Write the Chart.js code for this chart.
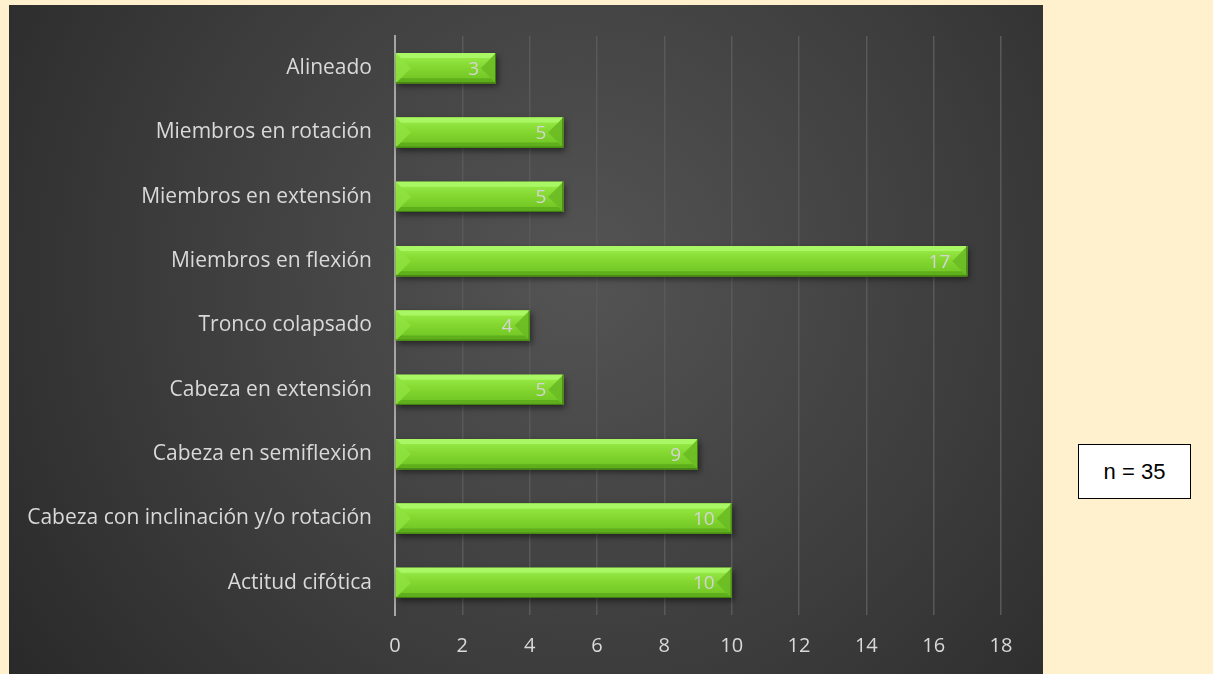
<!DOCTYPE html>
<html><head><meta charset="utf-8">
<script src="https://cdn.jsdelivr.net/npm/chart.js@4/dist/chart.umd.min.js"></script>
<style>
html,body{margin:0;padding:0;background:#FFF0CE;width:1213px;height:674px;overflow:hidden;}
#wrap{position:absolute;left:9px;top:5px;width:1034px;height:669px;}
#nbox{position:absolute;left:1078px;top:444px;width:111px;height:53px;background:#fff;border:1px solid #000;font-family:"Liberation Sans",Arial,sans-serif;font-size:22px;color:#000;display:flex;align-items:center;justify-content:center;}
</style></head>
<body>
<div id="wrap"><canvas id="c" width="1034" height="669"></canvas></div>
<div id="nbox">n = 35</div>
<script>
const categories = ["Alineado","Miembros en rotación","Miembros en extensión","Miembros en flexión","Tronco colapsado","Cabeza en extensión","Cabeza en semiflexión","Cabeza con inclinación y/o rotación","Actitud cifótica"];
const values = [3,5,5,17,4,5,9,10,10];
const xTicks = [0,2,4,6,8,10,12,14,16,18];

const FONT = "'Open Sans', Lato, sans-serif";

const bgPlugin = {
  id:'bg',
  beforeDraw(chart){
    const ctx = chart.ctx, w = chart.width, h = chart.height;
    const g = ctx.createRadialGradient(w*0.55, h*0.4, 0, w*0.55, h*0.4, Math.max(w,h)*0.72);
    g.addColorStop(0,'#545454');
    g.addColorStop(0.55,'#3c3c3c');
    g.addColorStop(1,'#262626');
    ctx.save(); ctx.fillStyle = g; ctx.fillRect(0,0,w,h); ctx.restore();
  }
};

const bevelPlugin = {
  id:'bevel',
  afterDatasetsDraw(chart){
    const ctx = chart.ctx;
    const meta = chart.getDatasetMeta(0);
    meta.data.forEach((bar, i) => {
      const x0 = bar.base, x1 = bar.x, yT = bar.y - bar.height/2, yB = bar.y + bar.height/2, h = bar.height;
      const b = 5;
      ctx.save();
      ctx.shadowColor = 'rgba(0,0,0,0.5)'; ctx.shadowBlur = 6; ctx.shadowOffsetX = 2; ctx.shadowOffsetY = 3;
      ctx.fillStyle = '#5aa81a';
      ctx.fillRect(x0, yT, x1-x0, h);
      ctx.restore();
      ctx.save();
      const g = ctx.createLinearGradient(0, yT, 0, yB);
      g.addColorStop(0,'#9ef050'); g.addColorStop(0.45,'#84d830'); g.addColorStop(1,'#6ec222');
      ctx.fillStyle = g; ctx.fillRect(x0, yT, x1-x0, h);
      ctx.fillStyle = '#aaf766';
      ctx.beginPath(); ctx.moveTo(x0,yT); ctx.lineTo(x1,yT); ctx.lineTo(x1-b,yT+b); ctx.lineTo(x0+b,yT+b); ctx.closePath(); ctx.fill();
      ctx.fillStyle = '#5fae1c';
      ctx.beginPath(); ctx.moveTo(x0,yB); ctx.lineTo(x1,yB); ctx.lineTo(x1-b,yB-b); ctx.lineTo(x0+b,yB-b); ctx.closePath(); ctx.fill();
      ctx.globalAlpha=0.8;
      ctx.fillStyle = '#90e440';
      ctx.beginPath(); ctx.moveTo(x0,yT); ctx.lineTo(x0+h/2,bar.y); ctx.lineTo(x0,yB); ctx.closePath(); ctx.fill();
      ctx.globalAlpha=0.9;
      ctx.fillStyle = '#6abb24';
      ctx.beginPath(); ctx.moveTo(x1,yT); ctx.lineTo(x1-h/2,bar.y); ctx.lineTo(x1,yB); ctx.closePath(); ctx.fill();
      ctx.globalAlpha=1;
      ctx.strokeStyle = '#3f7d10'; ctx.lineWidth = 1;
      ctx.beginPath(); ctx.moveTo(x0,yB-0.5); ctx.lineTo(x1-0.5,yB-0.5); ctx.lineTo(x1-0.5,yT); ctx.stroke();
      ctx.fillStyle = '#d4d4d4';
      ctx.font = "19px " + FONT;
      ctx.textAlign = 'right'; ctx.textBaseline = 'middle';
      ctx.fillText(String(values[i]), x1 - 17, bar.y + 1);
      ctx.restore();
    });
  }
};

new Chart(document.getElementById('c'), {
  type:'bar',
  data:{ labels:categories, datasets:[{ data:values, backgroundColor:'rgba(0,0,0,0)', borderWidth:0, categoryPercentage:1, barPercentage:0.47 }]},
  options:{
    indexAxis:'y', responsive:false, animation:false,
    layout:{ padding:{ top:31, right:42, left:0, bottom:0 } },
    plugins:{ legend:{display:false}, tooltip:{enabled:false} },
    scales:{
      x:{
        min:0, max:18,
        afterBuildTicks(s){ s.ticks = xTicks.map(v=>({value:v})); },
        afterFit(s){ s.height = 59; s.paddingLeft = 0; s.paddingRight = 0; },
        grid:{ color:(c)=> c.tick && c.tick.value===0 ? 'rgba(0,0,0,0)' : '#595959', lineWidth:1.5, drawTicks:false },
        border:{ display:false },
        ticks:{ color:'#d9d9d9', font:{ family:FONT, size:20 }, padding:19 }
      },
      y:{
        afterFit(s){ s.width = 386; s.paddingTop = 0; s.paddingBottom = 0; },
        grid:{ display:false, drawTicks:false },
        border:{ display:true, color:'#a6a6a6', width:2 },
        ticks:{ color:'#d9d9d9', font:{ family:FONT, size:21 }, padding:23 }
      }
    }
  },
  plugins:[bgPlugin, bevelPlugin]
});
</script>
</body></html>
